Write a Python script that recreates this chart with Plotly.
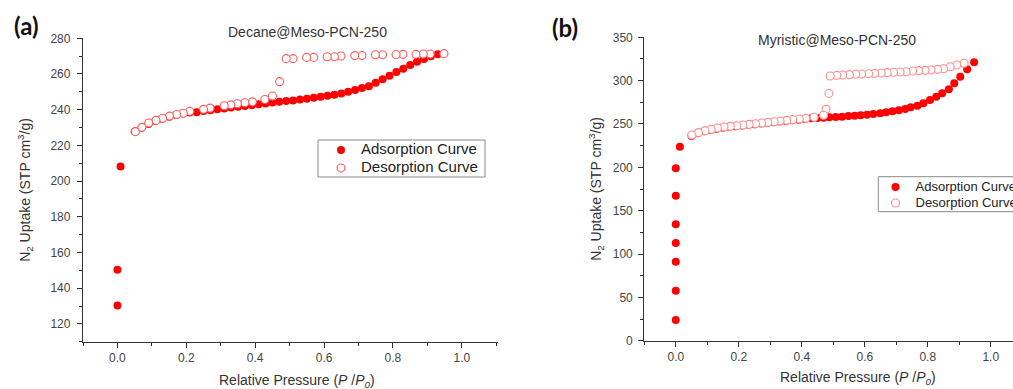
import plotly.graph_objects as go

# ---- (a) Decane@Meso-PCN-250 ----
ads_a_x = [0.0, 0.0, 0.009, 0.05, 0.07, 0.09, 0.11, 0.13, 0.15, 0.17, 0.19, 0.21,
           0.23, 0.25, 0.27, 0.29, 0.31, 0.33, 0.35, 0.37, 0.39, 0.41, 0.43, 0.45,
           0.47, 0.49, 0.51, 0.53, 0.55, 0.57, 0.59, 0.61, 0.63, 0.65, 0.67, 0.69,
           0.71, 0.73, 0.75, 0.77, 0.79, 0.81, 0.83, 0.85, 0.87, 0.89, 0.91, 0.93]
ads_a_y = [130.3, 150.3, 208.2, 227.8, 229.9, 232.0, 233.6, 234.9, 236.0, 237.0, 237.8, 238.4,
           238.6, 239.2, 239.7, 240.2, 240.7, 241.2, 241.6, 242.0, 242.5, 243.0, 243.5, 244.0,
           244.4, 244.8, 245.2, 245.7, 246.1, 246.7, 247.2, 247.8, 248.4, 249.1, 250.0, 251.0,
           252.1, 253.2, 255.1, 257.0, 259.0, 261.1, 263.0, 265.0, 266.9, 268.4, 269.9, 271.0]

des_a_x = [0.948, 0.908, 0.888, 0.867, 0.829, 0.809, 0.770, 0.749, 0.710, 0.689, 0.649, 0.630,
           0.609, 0.570, 0.549, 0.510, 0.490, 0.471, 0.450, 0.428, 0.392, 0.370, 0.348, 0.329,
           0.310, 0.269, 0.250, 0.210, 0.191, 0.172, 0.151, 0.131, 0.112, 0.091, 0.071, 0.052]
des_a_y = [271.4, 271.2, 271.2, 271.0, 271.0, 270.9, 270.8, 270.8, 270.4, 270.3, 270.1, 269.7,
           269.7, 269.3, 269.3, 268.6, 268.6, 255.7, 247.7, 245.7, 244.4, 243.9, 243.3, 242.7,
           242.2, 240.9, 240.2, 239.1, 238.0, 237.3, 236.4, 235.2, 234.0, 232.5, 230.1, 227.7]

# ---- (b) Myristic@Meso-PCN-250 ----
ads_b_x = [0.0, 0.0, 0.0, 0.0, 0.0, 0.0, 0.0, 0.013,
           0.05, 0.07, 0.09, 0.11, 0.13, 0.15, 0.17, 0.19, 0.21, 0.23, 0.25, 0.27,
           0.29, 0.31, 0.33, 0.35, 0.37, 0.39, 0.41, 0.43, 0.45,
           0.469, 0.488, 0.508, 0.528, 0.548, 0.568, 0.587, 0.607, 0.627, 0.649,
           0.668, 0.688, 0.708, 0.728, 0.746, 0.767, 0.786, 0.807, 0.827, 0.846,
           0.867, 0.884, 0.903, 0.925, 0.947]
ads_b_y = [23.9, 57.7, 91.2, 112.7, 134.2, 167.3, 198.8, 223.8,
           236.0, 239.2, 241.5, 243.1, 244.6, 245.8, 246.7, 247.5, 248.3, 249.0, 249.8, 250.5,
           251.3, 252.0, 252.8, 253.5, 254.3, 255.0, 255.8, 256.5, 257.0,
           257.3, 257.7, 258.0, 258.4, 259.2, 259.6, 260.0, 260.7, 261.5, 262.3,
           263.4, 264.6, 265.8, 267.3, 269.2, 271.1, 273.8, 277.7, 281.5, 285.4,
           290.0, 296.9, 304.6, 313.0, 321.1]

des_b_x = [0.915, 0.892, 0.871, 0.850, 0.831, 0.810, 0.791, 0.771, 0.752, 0.731, 0.712,
           0.691, 0.671, 0.652, 0.631, 0.612, 0.590, 0.571, 0.551, 0.530, 0.511, 0.490,
           0.486, 0.477, 0.469, 0.439, 0.413, 0.392, 0.371, 0.352, 0.331, 0.312, 0.292,
           0.273, 0.253, 0.233, 0.213, 0.194, 0.173, 0.153, 0.132, 0.112, 0.093, 0.072, 0.051]
des_b_y = [320.0, 318.0, 316.1, 313.8, 313.0, 312.3, 311.9, 311.5, 311.1, 310.3, 309.9,
           309.6, 309.2, 308.8, 308.4, 308.0, 307.6, 307.3, 306.9, 306.5, 306.1, 305.3,
           285.3, 266.9, 260.0, 257.7, 256.5, 255.7, 255.0, 254.2, 253.4, 252.6, 251.9,
           251.1, 250.3, 249.6, 248.8, 248.0, 247.3, 246.5, 245.4, 243.8, 242.3, 240.0, 237.3]

series_names = ["Adsorption Curve", "Desorption Curve"]
panel_titles = ["Decane@Meso-PCN-250", "Myristic@Meso-PCN-250"]
panel_tags = ["(a)", "(b)"]
x_title = "Relative Pressure (<i>P</i> /<i>P</i><sub><i>0</i></sub>)"
y_title = "N<sub>2</sub> Uptake (STP cm<sup>3</sup>/g)"

W, H = 1013, 389
FONT = "Liberation Sans, Arial, sans-serif"
RED = "#ff0000"
AXIS = "#333333"


def px_x(p):
    return p / W


def px_y(p):
    return 1 - p / H


def legend_label(text, size):
    return f'<span style="font-size:{size}px">{text}</span>'


def key(left, row_center):
    # one-entry key box; an entry's row is centred 14.5 px below the box top
    return dict(x=px_x(left), y=px_y(row_center - 14.5), xanchor="left", yanchor="top",
                bgcolor="rgba(0,0,0,0)", borderwidth=0,
                font=dict(family=FONT, size=11, color="#222222"))


fig = go.Figure()

panels = [
    dict(ads=(ads_a_x, ads_a_y), des=(des_a_x, des_a_y), xa="x", ya="y",
         keys=("legend", "legend2"), ring="#ff5a5a", lsize=15),
    dict(ads=(ads_b_x, ads_b_y), des=(des_b_x, des_b_y), xa="x2", ya="y2",
         keys=("legend3", "legend4"), ring="#ff8c8c", lsize=13),
]

for p in panels:
    fig.add_trace(go.Scatter(
        x=p["ads"][0], y=p["ads"][1], mode="markers",
        name=legend_label(series_names[0], p["lsize"]),
        xaxis=p["xa"], yaxis=p["ya"], legend=p["keys"][0],
        marker=dict(symbol="circle", size=8, color=RED, line=dict(width=0)),
    ))
    fig.add_trace(go.Scatter(
        x=p["des"][0], y=p["des"][1], mode="markers",
        name=legend_label(series_names[1], p["lsize"]),
        xaxis=p["xa"], yaxis=p["ya"], legend=p["keys"][1],
        marker=dict(symbol="circle", size=8, color="white",
                    line=dict(width=1.1, color=p["ring"])),
    ))

axis_common = dict(
    showline=True, linecolor=AXIS, linewidth=1.3, mirror=False,
    ticks="outside", ticklen=5, tickwidth=1.2, tickcolor=AXIS,
    showgrid=False, zeroline=False,
    tickfont=dict(family=FONT, size=12, color="#444444"),
)
title_font = dict(family=FONT, size=14, color="#333333")

fig.update_layout(
    width=W, height=H,
    margin=dict(l=0, r=0, t=0, b=0, autoexpand=False),
    paper_bgcolor="white", plot_bgcolor="white",
    font=dict(family=FONT, color="#333333"),
    xaxis=dict(axis_common, domain=[px_x(83), px_x(498)], range=[-0.1, 1.105],
               anchor="y", tick0=0, dtick=0.2, tickformat=".1f",
               minor=dict(dtick=0.1, ticks="outside", ticklen=3, tickcolor=AXIS)),
    yaxis=dict(axis_common, domain=[px_y(341.7), px_y(38.3)], range=[110, 280],
               anchor="x", tick0=0, dtick=20, ticklabelstandoff=4,
               minor=dict(dtick=10, ticks="outside", ticklen=3, tickcolor=AXIS),
               title=dict(text=y_title, font=title_font, standoff=16)),
    xaxis2=dict(axis_common, domain=[px_x(644.3), 1.0], range=[-0.1, 1.0705],
                anchor="y2", tick0=0, dtick=0.2, tickformat=".1f",
                minor=dict(dtick=0.1, ticks="outside", ticklen=3, tickcolor=AXIS)),
    yaxis2=dict(axis_common, domain=[px_y(340.7), px_y(37.3)], range=[0, 350],
                anchor="x2", tick0=0, dtick=50, ticklabelstandoff=3,
                minor=dict(dtick=25, ticks="outside", ticklen=3, tickcolor=AXIS),
                title=dict(text=y_title, font=title_font, standoff=7)),
    legend=key(321, 150),
    legend2=key(321, 168),
    legend3=key(875.5, 187),
    legend4=key(875.5, 203),
    showlegend=True,
)

# legend frames
fig.add_shape(type="rect", xref="paper", yref="paper", layer="above",
              x0=px_x(318), x1=px_x(485), y0=px_y(177), y1=px_y(140),
              fillcolor="white", line=dict(color="#8a8a8a", width=1))
fig.add_shape(type="rect", xref="paper", yref="paper", layer="above",
              x0=px_x(878.3), x1=px_x(1030), y0=px_y(211.7), y1=px_y(176.7),
              fillcolor="white", line=dict(color="#8a8a8a", width=1))

# x-axis titles
fig.add_annotation(text=x_title, x=px_x(296.7), y=px_y(381), xref="paper", yref="paper",
                   showarrow=False, xanchor="center", yanchor="middle", font=title_font)
fig.add_annotation(text=x_title, x=px_x(858), y=px_y(378), xref="paper", yref="paper",
                   showarrow=False, xanchor="center", yanchor="middle", font=title_font)

# panel captions and tags
fig.add_annotation(text=panel_titles[0], x=px_x(307.5), y=px_y(31.7), xref="paper", yref="paper",
                   showarrow=False, xanchor="center", yanchor="middle", font=title_font)
fig.add_annotation(text=panel_titles[1], x=px_x(837), y=px_y(40), xref="paper", yref="paper",
                   showarrow=False, xanchor="center", yanchor="middle", font=title_font)
fig.add_annotation(text=f"<b>{panel_tags[0]}</b>", x=px_x(26), y=px_y(26), xref="paper", yref="paper",
                   showarrow=False, xanchor="center", yanchor="middle",
                   font=dict(family="Lato, Open Sans, sans-serif", size=24, color="#111111"))
fig.add_annotation(text=f"<b>{panel_tags[1]}</b>", x=px_x(565), y=px_y(27), xref="paper", yref="paper",
                   showarrow=False, xanchor="center", yanchor="middle",
                   font=dict(family="Lato, Open Sans, sans-serif", size=24, color="#111111"))

fig.write_html("out.html")
